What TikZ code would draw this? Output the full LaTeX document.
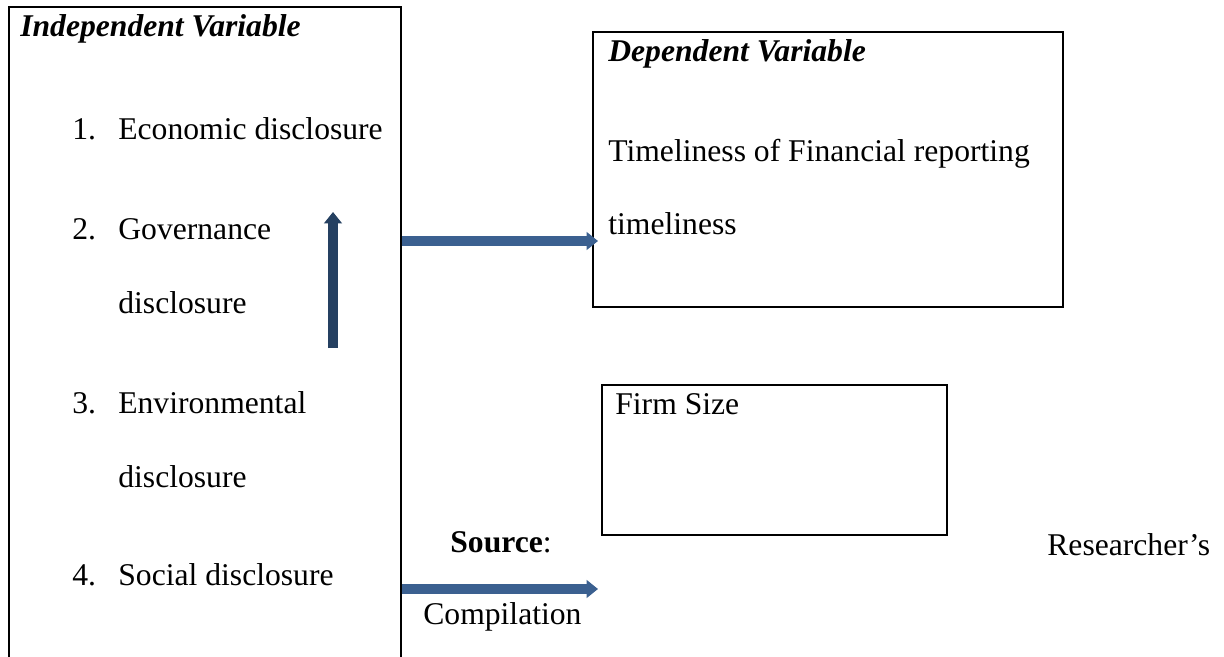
\documentclass[tikz,border=0pt]{standalone}
\usepackage{fontspec}
\setmainfont{Liberation Serif}
\usepackage{tikz}
\usetikzlibrary{arrows.meta, positioning}
\definecolor{arrowBlue}{HTML}{3B6090}
\definecolor{arrowDark}{HTML}{254061}
\tikzstyle{box} = [rectangle, draw=black, line width=1.2pt, inner sep=0pt, anchor=north west]
\tikzstyle{txt} = [anchor=base west, inner sep=0pt, font=\fontsize{18}{21}\selectfont]
\tikzstyle{arrow} = [line width=5.6pt, arrowBlue, -{Triangle[width=10pt, length=6.5pt]}]
\tikzstyle{darkArrow} = [arrow, arrowDark]

\begin{document}
\begin{tikzpicture}
                            \clip (0,0) rectangle (24.48,-13.14);
                            \node (indep) [box, minimum width=7.84cm, minimum height=13.88cm] at (0.16,-0.12) {};
                            \node (dep) [box, minimum width=9.4cm, minimum height=5.5cm] at (11.84,-0.62) {};
                            \node (firm) [box, minimum width=6.9cm, minimum height=3cm] at (12.02,-7.68) {};
                            \node (indepTitle) [txt] at (0.4,-0.74) {\bfseries\itshape Independent Variable};
                            \node (n1) [txt] at (1.44,-2.80) {1.};
                            \node (econ) [txt] at (2.36,-2.80) {Economic disclosure};
                            \node (n2) [txt] at (1.44,-4.78) {2.};
                            \node (gov) [txt] at (2.36,-4.78) {Governance};
                            \node (govB) [txt] at (2.36,-6.26) {disclosure};
                            \node (n3) [txt] at (1.44,-8.26) {3.};
                            \node (env) [txt] at (2.36,-8.26) {Environmental};
                            \node (envB) [txt] at (2.36,-9.74) {disclosure};
                            \node (n4) [txt] at (1.44,-11.70) {4.};
                            \node (soc) [txt] at (2.36,-11.70) {Social disclosure};
                            \node (depTitle) [txt] at (12.16,-1.24) {\bfseries\itshape Dependent Variable};
                            \node (timely) [txt] at (12.16,-3.24) {Timeliness of Financial reporting};
                            \node (timelyB) [txt] at (12.16,-4.70) {timeliness};
                            \node (size) [txt] at (12.30,-8.28) {Firm Size};
                            \node (source) [txt] at (9.0,-11.04) {\textbf{Source}:};
                            \node (research) [txt] at (20.94,-11.10) {Researcher's};
                            \node (compile) [txt] at (8.46,-12.48) {Compilation};
                            \coordinate (depIn) at (11.96,-4.82);
                            \coordinate (lowTip) at (11.96,-11.78);
                            \coordinate (upFoot) at (6.66,-6.96);
                            \coordinate (upTip) at (6.66,-4.24);
                            \draw [arrow] (indep.east |- depIn) -- (depIn);
                            \draw [arrow] (indep.east |- lowTip) -- (lowTip);
                            \draw [darkArrow] (upFoot) -- (upTip);
                        \end{tikzpicture}
\end{document}
